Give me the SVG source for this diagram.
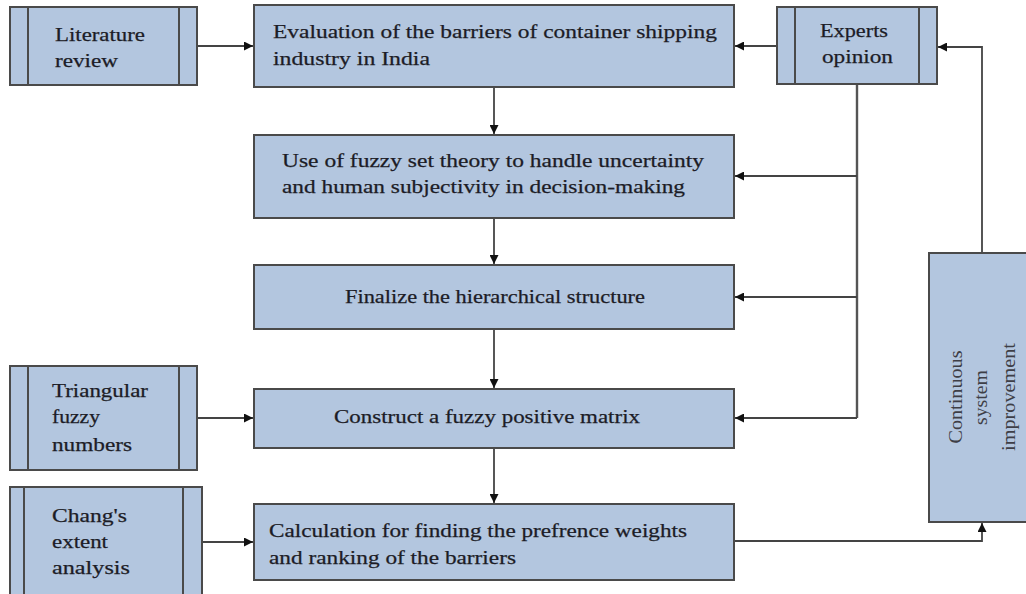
<svg xmlns="http://www.w3.org/2000/svg" width="1026" height="594" viewBox="0 0 1026 594">
  <style>
    .box { fill: #b3c6df; stroke: #4a4a4a; stroke-width: 2; }
    .bar { fill: none; stroke: #4a4a4a; stroke-width: 2; }
    .lbl { font-family: "Liberation Serif", "Times New Roman", serif; font-size: 19.5px; fill: #1c1c26; stroke: #1c1c26; stroke-width: 0.25; }
    .soft { fill: #3e3e46; stroke: none; }
    .wire { fill: none; stroke: #444; stroke-width: 1.8; }
    .trunk { fill: none; stroke: #555; stroke-width: 2.4; }
  </style>
  <defs>
    <marker id="arrow" viewBox="0 0 10 10" refX="10" refY="5" markerWidth="5" markerHeight="5" orient="auto" markerUnits="strokeWidth">
      <path d="M0,0 L10,5 L0,10 z" fill="#111"/>
    </marker>
  </defs>

  <rect width="1026" height="594" fill="#ffffff"/>

  <!-- connectors -->
  <g id="connectors">
    <line class="wire" x1="197" y1="46" x2="253" y2="46" marker-end="url(#arrow)"/>
    <line class="wire" x1="777" y1="46" x2="735" y2="46" marker-end="url(#arrow)"/>
    <line class="wire" x1="494" y1="87" x2="494" y2="134" marker-end="url(#arrow)"/>
    <line class="wire" x1="494" y1="218" x2="494" y2="264" marker-end="url(#arrow)"/>
    <line class="wire" x1="494" y1="329" x2="494" y2="388" marker-end="url(#arrow)"/>
    <line class="wire" x1="494" y1="448" x2="494" y2="503" marker-end="url(#arrow)"/>
    <!-- experts opinion feeds the middle steps -->
    <polyline class="trunk" points="857,84 857,418"/>
    <line class="wire" x1="857" y1="176" x2="735" y2="176" marker-end="url(#arrow)"/>
    <line class="wire" x1="857" y1="297" x2="735" y2="297" marker-end="url(#arrow)"/>
    <line class="wire" x1="857" y1="418" x2="735" y2="418" marker-end="url(#arrow)"/>
    <line class="wire" x1="197" y1="418" x2="253" y2="418" marker-end="url(#arrow)"/>
    <line class="wire" x1="202" y1="542" x2="253" y2="542" marker-end="url(#arrow)"/>
    <!-- feedback loop -->
    <polyline class="wire" points="734,541 982,541 982,523" marker-end="url(#arrow)"/>
    <polyline class="wire" points="982,253 982,47 938,47" marker-end="url(#arrow)"/>
  </g>

  <g id="literature-review">
    <rect class="box" x="10" y="7" width="187" height="78"/>
    <line class="bar" x1="28" y1="7" x2="28" y2="85"/>
    <line class="bar" x1="179" y1="7" x2="179" y2="85"/>
    <text class="lbl" x="55" y="41" textLength="90" lengthAdjust="spacingAndGlyphs">Literature</text>
    <text class="lbl" x="55" y="67" textLength="63" lengthAdjust="spacingAndGlyphs">review</text>
  </g>

  <g id="experts-opinion">
    <rect class="box" x="777" y="7" width="160" height="77"/>
    <line class="bar" x1="795" y1="7" x2="795" y2="84"/>
    <line class="bar" x1="919" y1="7" x2="919" y2="84"/>
    <text class="lbl" x="820" y="37" textLength="68" lengthAdjust="spacingAndGlyphs">Experts</text>
    <text class="lbl" x="822" y="63" textLength="71" lengthAdjust="spacingAndGlyphs">opinion</text>
  </g>

  <g id="evaluation">
    <rect class="box" x="254" y="5" width="480" height="82"/>
    <text class="lbl" x="273" y="38" textLength="444" lengthAdjust="spacingAndGlyphs">Evaluation of the barriers of container shipping</text>
    <text class="lbl" x="273" y="65" textLength="157" lengthAdjust="spacingAndGlyphs">industry in India</text>
  </g>

  <g id="fuzzy-set-theory">
    <rect class="box" x="254" y="135" width="480" height="83"/>
    <text class="lbl" x="282" y="167" textLength="422" lengthAdjust="spacingAndGlyphs">Use of fuzzy set theory to handle uncertainty</text>
    <text class="lbl" x="282" y="193" textLength="403" lengthAdjust="spacingAndGlyphs">and human subjectivity in decision-making</text>
  </g>

  <g id="hierarchical-structure">
    <rect class="box" x="254" y="265" width="480" height="64"/>
    <text class="lbl" x="345" y="303" textLength="300" lengthAdjust="spacingAndGlyphs">Finalize the hierarchical structure</text>
  </g>

  <g id="triangular-fuzzy-numbers">
    <rect class="box" x="10" y="366" width="187" height="104"/>
    <line class="bar" x1="28" y1="366" x2="28" y2="470"/>
    <line class="bar" x1="179" y1="366" x2="179" y2="470"/>
    <text class="lbl" x="52" y="397" textLength="96" lengthAdjust="spacingAndGlyphs">Triangular</text>
    <text class="lbl" x="52" y="423" textLength="48" lengthAdjust="spacingAndGlyphs">fuzzy</text>
    <text class="lbl" x="52" y="451" textLength="80" lengthAdjust="spacingAndGlyphs">numbers</text>
  </g>

  <g id="fuzzy-positive-matrix">
    <rect class="box" x="254" y="389" width="480" height="59"/>
    <text class="lbl" x="334" y="423" textLength="306" lengthAdjust="spacingAndGlyphs">Construct a fuzzy positive matrix</text>
  </g>

  <g id="changs-extent-analysis">
    <rect class="box" x="10" y="487" width="192" height="112"/>
    <line class="bar" x1="24" y1="487" x2="24" y2="599"/>
    <line class="bar" x1="183" y1="487" x2="183" y2="599"/>
    <text class="lbl" x="52" y="522" textLength="75" lengthAdjust="spacingAndGlyphs">Chang's</text>
    <text class="lbl" x="52" y="548" textLength="56" lengthAdjust="spacingAndGlyphs">extent</text>
    <text class="lbl" x="52" y="574" textLength="78" lengthAdjust="spacingAndGlyphs">analysis</text>
  </g>

  <g id="preference-weights">
    <rect class="box" x="254" y="504" width="480" height="76"/>
    <text class="lbl" x="269" y="537" textLength="418" lengthAdjust="spacingAndGlyphs">Calculation for finding the prefrence weights</text>
    <text class="lbl" x="269" y="564" textLength="247" lengthAdjust="spacingAndGlyphs">and ranking of the barriers</text>
  </g>

  <g id="continuous-improvement">
    <rect class="box" x="929" y="253" width="110" height="269"/>
    <g transform="rotate(-90 983 397)">
      <text class="lbl soft" x="936.5" y="376" textLength="93" lengthAdjust="spacingAndGlyphs">Continuous</text>
      <text class="lbl soft" x="955" y="401" textLength="55" lengthAdjust="spacingAndGlyphs">system</text>
      <text class="lbl soft" x="929" y="429" textLength="108" lengthAdjust="spacingAndGlyphs">improvement</text>
    </g>
  </g>
</svg>
